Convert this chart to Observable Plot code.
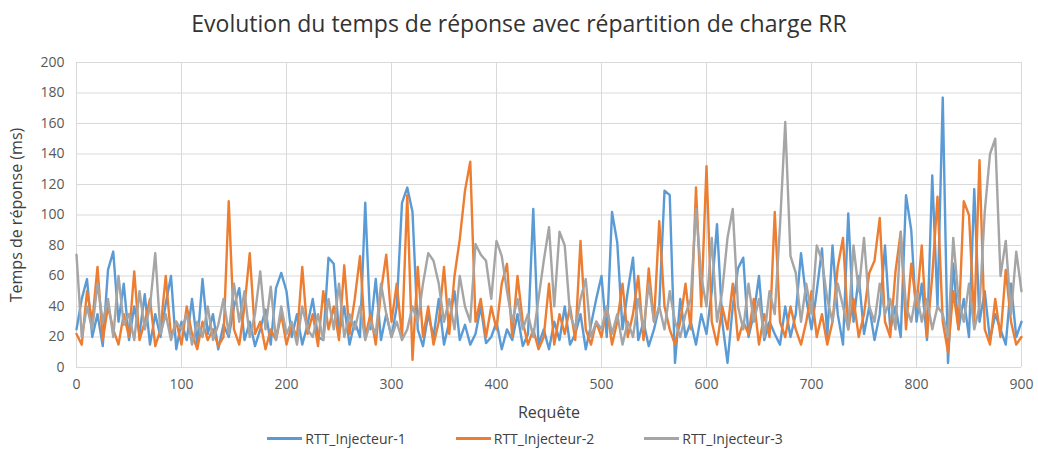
<!DOCTYPE html>
<html><head><meta charset="utf-8">
<script src="https://cdn.jsdelivr.net/npm/d3@7"></script>
<script src="https://cdn.jsdelivr.net/npm/@observablehq/plot@0.6"></script>
<style>
body{margin:0;background:#fff;font-family:"Open Sans",sans-serif;width:1038px;height:453px;overflow:hidden}
#title{height:45px;line-height:46px;text-align:center;font-size:23px;color:#333}
#chart svg{display:block}
#legend{display:flex;justify-content:center;gap:50px;font-size:14px;color:#404040;margin-top:4px;padding-left:12px}
.item{display:flex;align-items:center;gap:3px}
.sw{width:35px;height:3px}
</style></head><body>
<div id="title">Evolution du temps de réponse avec répartition de charge RR</div>
<div id="chart"></div>
<div id="legend"></div>
<script>
const step = 5; // one reading every 5 requests
const seriesNames = ["RTT_Injecteur-1","RTT_Injecteur-2","RTT_Injecteur-3"];
const seriesColors = ["#5B9BD5","#ED7D31","#A5A5A5"];
const xTicks = [0,100,200,300,400,500,600,700,800,900];
const yTicks = [0,20,40,60,80,100,120,140,160,180,200];

const rtt1 = [25,45,58,20,35,14,64,76,30,55,18,40,22,48,15,35,20,42,60,12,
 30,18,45,15,58,22,35,12,28,20,40,52,18,30,14,25,38,15,52,62,
 50,20,35,15,28,45,20,18,72,68,22,40,15,30,20,108,25,58,18,35,
 20,40,108,118,102,25,14,35,20,45,15,30,50,18,28,15,22,40,16,20,
 30,12,25,18,35,14,22,104,15,25,12,30,18,40,15,22,35,12,28,45,
 60,20,102,82,25,50,72,18,30,14,25,40,116,113,3,45,20,30,15,35,
 22,50,94,30,3,40,65,72,20,35,60,18,30,22,15,40,20,35,75,45,
 25,50,78,20,80,35,15,101,30,60,22,40,18,35,80,25,40,20,113,90,
 30,55,18,126,40,177,3,68,25,45,20,117,30,50,18,35,25,15,55,20,30];

const rtt2 = [22,15,50,30,66,18,40,25,15,35,20,63,18,30,45,14,25,60,20,30,
 15,40,22,12,30,18,25,14,20,109,25,15,40,75,22,30,12,25,18,35,
 15,28,20,66,22,35,14,50,25,40,18,67,22,45,73,20,35,15,50,74,
 30,55,20,113,5,66,20,40,15,30,66,22,60,84,116,135,30,45,20,40,
 25,55,68,20,60,30,15,25,12,20,55,15,35,22,40,18,83,25,15,30,
 20,40,15,30,55,20,35,60,18,65,30,96,40,25,15,30,55,25,118,40,
 132,30,15,40,25,55,18,30,22,45,15,35,20,102,30,20,40,25,15,30,
 50,20,35,15,30,66,85,25,45,20,35,62,70,98,30,20,63,89,25,68,
 40,80,20,60,112,30,10,50,25,109,100,30,136,25,15,45,20,64,30,15,20];

const rtt3 = [74,20,40,25,55,30,45,20,60,28,35,18,50,25,40,75,22,35,18,30,
 25,35,15,30,20,40,18,28,45,22,55,30,50,20,35,63,25,53,18,40,
 22,30,15,40,25,20,35,18,45,25,55,20,35,25,40,18,30,22,55,35,
 20,30,18,25,40,30,55,75,70,55,30,45,25,60,40,30,81,74,70,45,
 83,73,50,30,45,25,35,20,45,70,92,40,89,80,35,25,45,58,20,30,
 25,40,22,35,15,30,20,45,25,55,30,40,25,50,30,20,35,45,104,60,
 40,85,30,50,85,104,40,25,55,30,45,20,50,35,93,161,73,62,30,55,
 35,80,70,45,30,55,40,25,80,50,85,40,30,55,35,45,25,88,40,30,
 50,30,45,25,40,35,20,85,45,30,55,25,40,102,140,150,60,83,35,76,50];

const data = [];
[rtt1, rtt2, rtt3].forEach((arr, s) => arr.forEach((v, i) => data.push({req: i * step, rtt: v, serie: seriesNames[s]})));

const plot = Plot.plot({
  width: 1038, height: 380,
  marginTop: 17, marginBottom: 58, marginLeft: 76, marginRight: 17,
  style: {fontFamily: "'Open Sans', sans-serif", fontSize: "14px", color: "#595959", background: "#fff"},
  x: {domain: [0, 900]},
  y: {domain: [0, 200]},
  color: {domain: seriesNames, range: seriesColors},
  marks: [
    Plot.gridX(xTicks, {stroke: "#d9d9d9", strokeOpacity: 1}),
    Plot.gridY(yTicks, {stroke: "#d9d9d9", strokeOpacity: 1}),
    Plot.axisX({ticks: xTicks, tickSize: 0, tickPadding: 12, label: "Requête", labelAnchor: "center", labelOffset: 50, labelArrow: "none"}),
    Plot.axisY({ticks: yTicks, tickSize: 0, tickPadding: 12, label: "Temps de réponse (ms)", labelAnchor: "center", labelOffset: 66, labelArrow: "none"}),
    Plot.lineY(data, {x: "req", y: "rtt", z: "serie", stroke: "serie", strokeWidth: 2.4, strokeLinejoin: "round"})
  ]
});
document.getElementById("chart").appendChild(plot);
plot.querySelectorAll('g[aria-label="x-axis label"] text, g[aria-label="y-axis label"] text').forEach(t => {
  t.style.fontSize = "16px"; t.setAttribute("fill", "#404040");
});

const legend = document.getElementById("legend");
seriesNames.forEach((n, i) => {
  const it = document.createElement("div"); it.className = "item";
  it.innerHTML = `<span class="sw" style="background:${seriesColors[i]}"></span><span>${n}</span>`;
  legend.appendChild(it);
});
</script>
</body></html>
